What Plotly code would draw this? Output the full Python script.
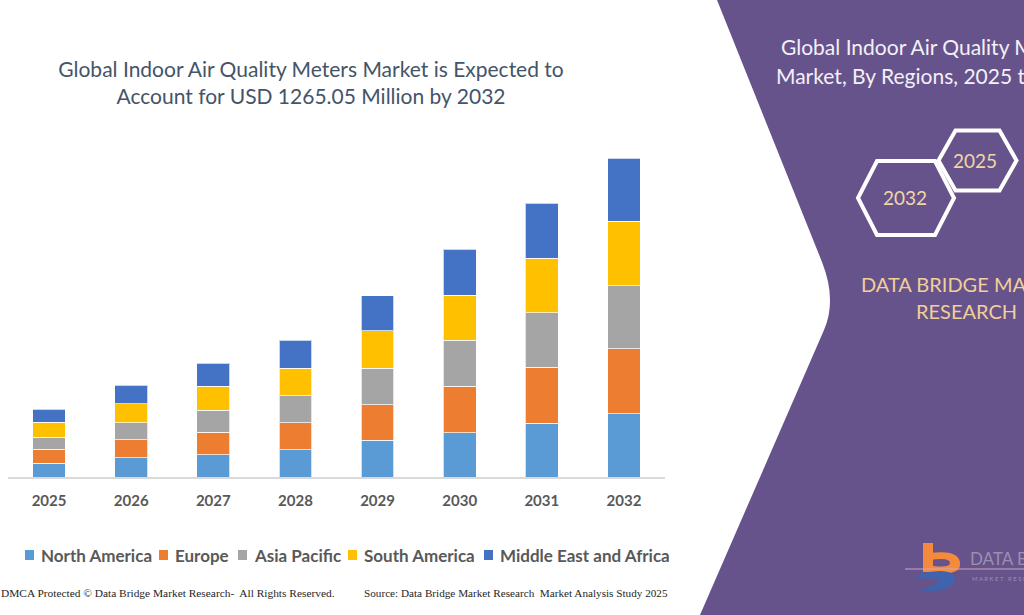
import plotly.graph_objects as go

W, H = 1024, 615

years = ["2025", "2026", "2027", "2028", "2029", "2030", "2031", "2032"]
north_america = [55.5, 75.4, 88.8, 108.7, 145.5, 175.7, 213.0, 249.9]
europe = [55.5, 72.6, 89.6, 105.5, 141.6, 185.2, 222.1, 257.8]
asia_pacific = [47.6, 66.2, 86.1, 107.1, 145.2, 182.4, 216.5, 249.9]
south_america = [57.9, 75.4, 95.2, 111.0, 148.3, 177.3, 215.7, 256.6]
middle_east_africa = [53.1, 73.8, 91.2, 109.9, 138.8, 183.6, 219.3, 250.85]

series_names = ["North America", "Europe", "Asia Pacific", "South America", "Middle East and Africa"]
series_values = [north_america, europe, asia_pacific, south_america, middle_east_africa]
series_colors = ["#5b9bd5", "#ed7d31", "#a5a5a5", "#ffc000", "#4472c4"]

# pixel positions (left edge of legend text) for the hand-placed legend row
legend_text_x = [40, 174, 253, 363, 499]


def px(x):
    return x / W


def py(y):
    return 1 - y / H


fig = go.Figure()
for name, vals, col in zip(series_names, series_values, series_colors):
    fig.add_trace(go.Bar(
        x=years, y=vals, name=name, showlegend=False,
        marker=dict(color=col, line=dict(color="rgba(255,255,255,0.7)", width=1)),
    ))

FONT = "Lato"

shapes = []
annotations = []

# purple panel on the right
pts = "M {},{} L {},{} Q {},{} {},{} L {},{} L {},{} L {},{} Z".format(
    px(717), py(0), px(822), py(262), px(837), py(300), px(824), py(330),
    px(700), py(615), px(1024), py(615), px(1024), py(0))
shapes.append(dict(type="path", path=pts, xref="paper", yref="paper",
                   fillcolor="#67538b", line=dict(width=0), layer="below"))


def hexagon(cx, cy, hw, hh, inset):
    p = [(cx - hw, cy), (cx - hw + inset, cy - hh), (cx + hw - inset, cy - hh),
         (cx + hw, cy), (cx + hw - inset, cy + hh), (cx - hw + inset, cy + hh)]
    s = "M " + " L ".join("{},{}".format(px(a), py(b)) for a, b in p) + " Z"
    return dict(type="path", path=s, xref="paper", yref="paper",
                line=dict(color="white", width=4), fillcolor="rgba(0,0,0,0)")


shapes.append(hexagon(906, 198, 48, 37, 19))
shapes.append(hexagon(977.5, 160.5, 39, 30, 17))

# logo: orange "b"
shapes.append(dict(type="rect", xref="paper", yref="paper",
                   x0=px(923), x1=px(933), y0=py(572), y1=py(543),
                   fillcolor="#f58a3c", line=dict(width=0)))
bpath = "M {},{} Q {},{} {},{} Q {},{} {},{} L {},{} Q {},{} {},{} Q {},{} {},{} Z".format(
    px(930), py(553), px(962), py(549), px(960), py(566),
    px(958), py(576), px(933), py(572),
    px(933), py(566), px(950), py(568), px(950), py(563),
    px(950), py(557), px(930), py(560))
shapes.append(dict(type="path", path=bpath, xref="paper", yref="paper",
                   fillcolor="#f58a3c", line=dict(width=0)))
# logo: blue swoosh
spath = "M {},{} Q {},{} {},{} Q {},{} {},{} Q {},{} {},{} Q {},{} {},{} Z".format(
    px(913), py(578), px(920), py(572), px(940), py(571),
    px(962), py(572), px(952), py(585),
    px(940), py(594), px(918), py(590),
    px(935), py(588), px(940), py(579))
shapes.append(dict(type="path", path=spath, xref="paper", yref="paper",
                   fillcolor="#3f63ad", line=dict(width=0)))
shapes.append(dict(type="line", xref="paper", yref="paper",
                   x0=px(905), x1=px(1024), y0=py(569), y1=py(569),
                   line=dict(color="#c9a7c0", width=1.2)))

# legend row (squares + labels) built from the series lists
for name, col, tx in zip(series_names, series_colors, legend_text_x):
    shapes.append(dict(type="rect", xref="paper", yref="paper",
                       x0=px(tx - 15), x1=px(tx - 6), y0=py(560), y1=py(550),
                       fillcolor=col, line=dict(width=0)))
    annotations.append(dict(text=name, x=px(tx - 1), y=py(555), xanchor="left", yanchor="middle",
                            font=dict(family=FONT, size=17, color="#595959", weight="bold")))

annotations += [
    dict(text="Global Indoor Air Quality Meters", x=px(779), y=py(47), xanchor="left", yanchor="middle",
         font=dict(family=FONT, size=21, color="#f3f0f8")),
    dict(text="Market, By Regions, 2025 to 2032", x=px(774), y=py(75), xanchor="left", yanchor="middle",
         font=dict(family=FONT, size=21, color="#f3f0f8")),
    dict(text="2025", x=px(975), y=py(160), xanchor="center", yanchor="middle",
         font=dict(family=FONT, size=19, color="#f2d6a6")),
    dict(text="2032", x=px(905), y=py(197), xanchor="center", yanchor="middle",
         font=dict(family=FONT, size=19, color="#f2d6a6")),
    dict(text="DATA BRIDGE MARKET", x=px(859), y=py(284), xanchor="left", yanchor="middle",
         font=dict(family=FONT, size=20, color="#f0cf98")),
    dict(text="RESEARCH", x=px(966), y=py(311), xanchor="center", yanchor="middle",
         font=dict(family=FONT, size=20, color="#f0cf98")),
    dict(text="DATA BRIDGE", x=px(968), y=py(558), xanchor="left", yanchor="middle",
         font=dict(family=FONT, size=17, color="#9a8fb0")),
    dict(text="M A R K E T   R E S E A R C H", x=px(970), y=py(578), xanchor="left", yanchor="middle",
         font=dict(family=FONT, size=6, color="#9a8fb0")),
    dict(text="DMCA Protected © Data Bridge Market Research-  All Rights Reserved.", x=px(-1), y=py(593),
         xanchor="left", yanchor="middle",
         font=dict(family="Liberation Serif", size=11.4, color="#262626")),
    dict(text="Source: Data Bridge Market Research  Market Analysis Study 2025", x=px(362), y=py(593),
         xanchor="left", yanchor="middle",
         font=dict(family="Liberation Serif", size=11.2, color="#262626")),
]
for a in annotations:
    a.update(xref="paper", yref="paper", showarrow=False)

fig.update_layout(
    width=W, height=H,
    margin=dict(l=0, r=0, t=0, b=0),
    paper_bgcolor="white", plot_bgcolor="white",
    barmode="stack", bargap=0.6,
    showlegend=False,
    title=dict(text="Global Indoor Air Quality Meters Market is Expected to<br>Account for USD 1265.05 Million by 2032",
               x=px(311), xanchor="center", xref="paper", y=py(77), yref="container", yanchor="middle",
               font=dict(family=FONT, size=21, color="#445469")),
    xaxis=dict(domain=[px(8), px(665)], type="category", showgrid=False, showline=True,
               linecolor="#d9d9d9", linewidth=1.5, ticks="outside", ticklen=9,
               tickcolor="rgba(0,0,0,0)",
               tickfont=dict(family=FONT, size=15, color="#595959", weight="bold")),
    yaxis=dict(domain=[py(477), py(124)], range=[0, 1400], visible=False, showgrid=False),
    shapes=shapes,
    annotations=annotations,
)

fig.write_html("out.html")
